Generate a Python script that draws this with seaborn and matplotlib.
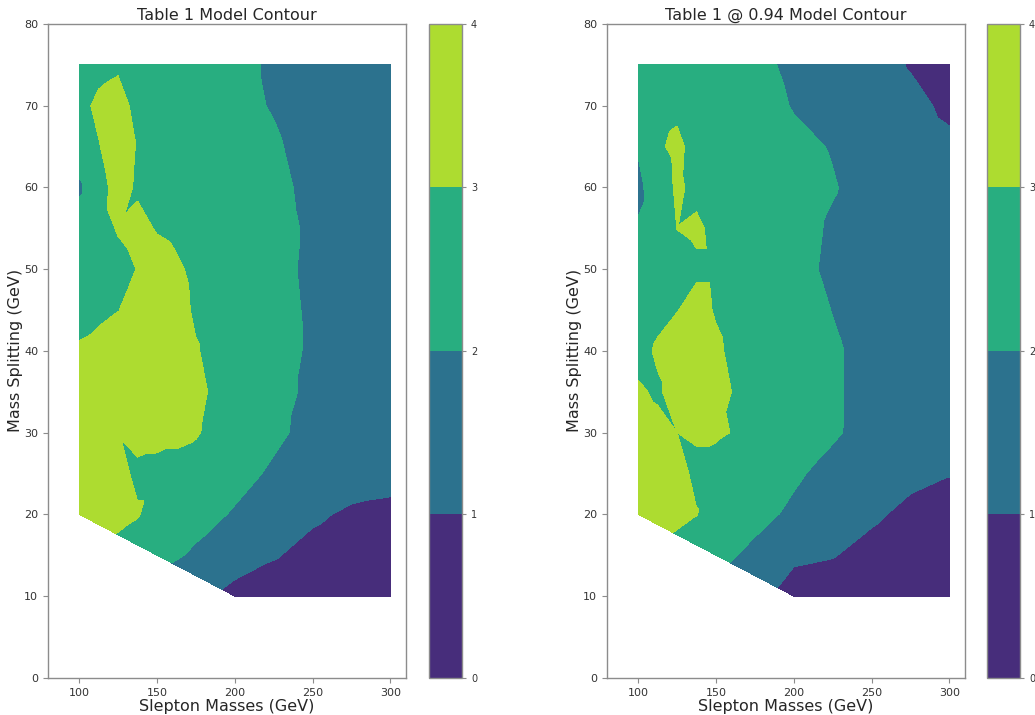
import numpy as np
import pandas as pd
import matplotlib
matplotlib.use("Agg")
import matplotlib.pyplot as plt
import matplotlib.tri as mtri
import seaborn as sns

# ---------------- data ----------------
slepton_masses = [100, 112.5, 125, 137.5, 150, 162.5, 175, 187.5, 200, 225, 250, 275, 300]
mass_splittings = [75, 70, 65, 60, 55, 50, 45, 40, 35, 30, 25, 20, 15, 10]
N = None

# value grid for "Table 1" (rows follow mass_splittings, columns follow slepton_masses)
table1_values = [
    [2.5, 2.7, 2.85, 2.7, 2.6, 2.5, 2.4, 2.3, 2.2, 1.9, 1.6, 1.4, 1.3],
    [2.7, 3.2, 3.4, 2.7, 2.6, 2.5, 2.4, 2.3, 2.2, 1.95, 1.6, 1.4, 1.3],
    [2.6, 2.95, 3.5, 2.95, 2.65, 2.55, 2.5, 2.45, 2.35, 2.1, 1.7, 1.45, 1.35],
    [1.85, 2.7, 3.3, 2.9, 2.75, 2.65, 2.6, 2.55, 2.45, 2.2, 1.8, 1.55, 1.4],
    [2.45, 2.75, 3.05, 3.2, 2.95, 2.85, 2.75, 2.65, 2.55, 2.3, 1.85, 1.6, 1.45],
    [2.35, 2.6, 2.8, 3.02, 3.3, 3.1, 2.85, 2.7, 2.6, 2.3, 1.8, 1.6, 1.45],
    [2.55, 2.8, 2.98, 3.3, 3.45, 3.25, 2.9, 2.75, 2.65, 2.35, 1.85, 1.6, 1.45],
    [3.15, 3.3, 3.45, 3.5, 3.5, 3.35, 3.05, 2.8, 2.7, 2.4, 1.85, 1.6, 1.45],
    [3.3, 3.4, 3.35, 3.4, 3.4, 3.3, 3.15, 2.9, 2.75, 2.4, 1.75, 1.55, 1.4],
    [3.35, 3.2, 3.02, 3.15, 3.1, 3.1, 3.05, 2.85, 2.7, 2.2, 1.7, 1.5, 1.35],
    [3.4, 3.3, 3.15, 2.9, 2.9, 2.85, 2.75, 2.55, 2.35, 1.85, 1.55, 1.3, 1.2],
    [3.5, 3.45, 3.35, 3.05, 2.7, 2.55, 2.35, 2.15, 1.9, 1.5, 1.1, 0.9, 0.85],
    [N, N, N, N, 2.3, 2.1, 1.85, 1.6, 1.3, 1.05, 0.8, 0.65, 0.55],
    [N, N, N, N, N, N, N, N, 0.8, 0.65, 0.5, 0.4, 0.35],
]

# value grid for "Table 1 @ 0.94"
table1_094_values = [
    [2.45, 2.55, 2.6, 2.55, 2.45, 2.35, 2.2, 2.02, 1.85, 1.6, 1.3, 0.95, 0.7],
    [2.4, 2.75, 2.85, 2.65, 2.5, 2.4, 2.3, 2.15, 1.95, 1.7, 1.45, 1.2, 0.85],
    [2.1, 2.9, 3.15, 2.75, 2.6, 2.5, 2.45, 2.35, 2.2, 1.95, 1.6, 1.35, 1.15],
    [1.75, 2.6, 3.1, 2.85, 2.7, 2.6, 2.55, 2.45, 2.35, 2.05, 1.7, 1.45, 1.25],
    [2.1, 2.5, 3.01, 3.1, 2.85, 2.7, 2.6, 2.5, 2.3, 1.9, 1.65, 1.45, 1.3],
    [2.3, 2.55, 2.75, 2.9, 2.9, 2.75, 2.6, 2.45, 2.25, 1.85, 1.6, 1.45, 1.3],
    [2.55, 2.8, 2.98, 3.2, 2.95, 2.8, 2.65, 2.5, 2.35, 1.98, 1.65, 1.45, 1.3],
    [2.75, 3.1, 3.3, 3.4, 3.1, 2.85, 2.7, 2.55, 2.45, 2.1, 1.75, 1.5, 1.35],
    [3.1, 2.9, 3.3, 3.35, 3.2, 2.95, 2.75, 2.6, 2.45, 2.1, 1.75, 1.5, 1.35],
    [3.3, 3.2, 3.0, 3.05, 3.05, 2.98, 2.8, 2.6, 2.45, 2.1, 1.7, 1.45, 1.35],
    [3.4, 3.3, 3.15, 2.9, 2.85, 2.75, 2.55, 2.3, 2.12, 1.75, 1.5, 1.15, 1.02],
    [3.5, 3.4, 3.3, 3.02, 2.7, 2.45, 2.25, 2.05, 1.85, 1.45, 1.1, 0.85, 0.8],
    [N, N, N, N, 2.25, 2.02, 1.8, 1.55, 1.1, 1.03, 0.8, 0.6, 0.5],
    [N, N, N, N, N, N, N, N, 0.75, 0.65, 0.5, 0.4, 0.35],
]

# extra points on the lower-left kinematic edge
edge_masses = [112.5, 125, 137.5, 162.5, 175, 187.5]
edge_splittings = [18.75, 17.5, 16.25, 13.75, 12.5, 11.25]
table1_edge = [3.45, 2.95, 2.7, 1.9, 1.6, 1.1]
table1_094_edge = [3.4, 2.9, 2.6, 1.9, 1.6, 1.05]

levels = [0, 1, 2, 3, 4]
titles = ["Table 1 Model Contour", "Table 1 @ 0.94 Model Contour"]


def to_frame(grid, edge):
    rows = []
    for yi, row in zip(mass_splittings, grid):
        for xi, v in zip(slepton_masses, row):
            if v is not None:
                rows.append((xi, yi, v))
    for xi, yi, v in zip(edge_masses, edge_splittings, edge):
        rows.append((xi, yi, v))
    return pd.DataFrame(rows, columns=["mass", "split", "value"])


frames = [to_frame(table1_values, table1_edge),
          to_frame(table1_094_values, table1_094_edge)]

# ---------------- style ----------------
sns.set_style("white", {"axes.edgecolor": "#8c8c8c",
                        "xtick.color": "#8c8c8c", "ytick.color": "#8c8c8c",
                        "xtick.bottom": True, "ytick.left": True})
plt.rcParams["font.family"] = ["DejaVu Sans"]
plt.rcParams["axes.linewidth"] = 1.0

fig = plt.figure(figsize=(10.35, 7.15), dpi=100)
ax_boxes = [[0.0464, 0.052, 0.3459, 0.9147], [0.5865, 0.052, 0.3459, 0.9147]]
cb_boxes = [[0.4145, 0.052, 0.0319, 0.9147], [0.9536, 0.052, 0.0319, 0.9147]]

for df, title, abox, cbox in zip(frames, titles, ax_boxes, cb_boxes):
    ax = fig.add_axes(abox)
    cax = fig.add_axes(cbox)
    tri = mtri.Triangulation(df["mass"].values, df["split"].values)
    cs = ax.tricontourf(tri, df["value"].values, levels=levels, cmap="viridis")
    ax.set_xlim(80, 310)
    ax.set_ylim(0, 80)
    ax.set_xticks([100, 150, 200, 250, 300])
    ax.set_yticks(np.arange(0, 81, 10))
    ax.tick_params(labelsize=8, labelcolor="#333333", length=3.5, width=0.8)
    ax.set_title(title, fontsize=11.5, pad=3)
    ax.set_xlabel("Slepton Masses (GeV)", fontsize=11.5, labelpad=1)
    ax.set_ylabel("Mass Splitting (GeV)", fontsize=11.5, labelpad=1)
    cb = fig.colorbar(cs, cax=cax)
    cb.set_ticks(levels)
    cb.ax.tick_params(labelsize=7, labelcolor="#333333", length=3, width=0.8,
                      color="#8c8c8c")
    cb.outline.set_edgecolor("#8c8c8c")

fig.savefig("out.png", dpi=100)
